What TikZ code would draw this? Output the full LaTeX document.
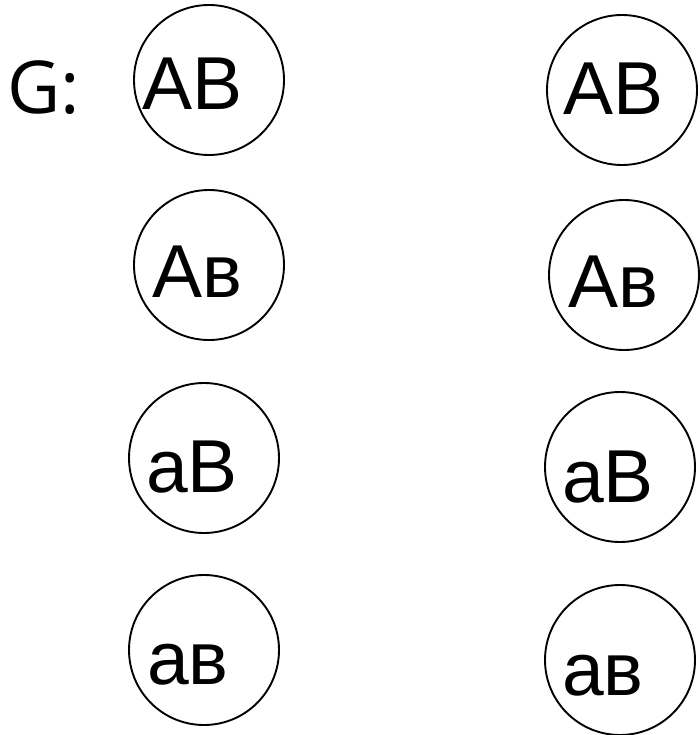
\documentclass[tikz,border=0pt]{standalone}
\usepackage{fontspec}
\setmainfont{Liberation Sans}
\newfontfamily\gfont{Open Sans}
\newcommand{\smb}{ʙ}
\tikzset{
  gam/.style={circle, draw=black, line width=1.9pt, minimum size=150pt, inner sep=0pt},
  lab/.style={anchor=base west, inner sep=0pt, font=\fontsize{75pt}{75pt}\selectfont}
}
\begin{document}
\begin{tikzpicture}[x=1pt,y=-1pt]
\useasboundingbox (0,0) rectangle (700,735);
% label
\node[anchor=base west, inner sep=0pt, font=\gfont\fontsize{73pt}{73pt}\selectfont] (g) at (7,114) {G:};
% left column circles
\node[gam] (l1) at (209,80) {};
\node[gam] (l2) at (209,265) {};
\node[gam] (l3) at (204,458) {};
\node[gam] (l4) at (204,650) {};
% right column circles
\node[gam] (r1) at (622,90) {};
\node[gam] (r2) at (624,275) {};
\node[gam] (r3) at (620,467) {};
\node[gam] (r4) at (620,660) {};
% left texts
\node[lab] (tl1) at (142,110) {AB};
\node[lab] (tl2) at (152,297) {A\smb};
\node[lab] (tl3) at (146,492) {aB};
\node[lab] (tl4) at (147,684) {a\smb};
% right texts
\node[lab] (tr1) at (563,115) {AB};
\node[lab] (tr2) at (568,307) {A\smb};
\node[lab] (tr3) at (562,502) {aB};
\node[lab] (tr4) at (562,695) {a\smb};
\end{tikzpicture}
\end{document}
